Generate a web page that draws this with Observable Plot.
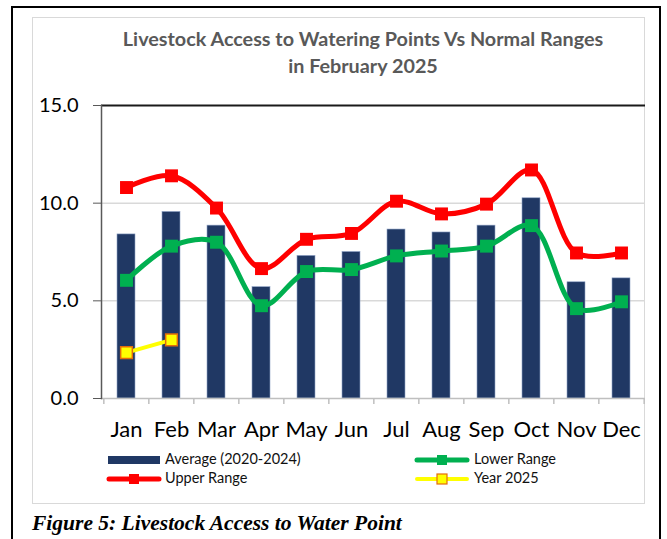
<!DOCTYPE html>
<html>
<head>
<meta charset="utf-8">
<script src="https://cdn.jsdelivr.net/npm/d3@7"></script>
<script src="https://cdn.jsdelivr.net/npm/@observablehq/plot@0.6"></script>
<style>
  html, body { margin: 0; padding: 0; background: #fff; }
  body { width: 667px; height: 539px; overflow: hidden; position: relative; font-family: Lato, sans-serif; }
  #outer { position: absolute; left: 11px; top: 6px; width: 650px; height: 560px; border: 2px solid #000; box-sizing: border-box; }
  #inner { position: absolute; left: 32px; top: 17px; width: 613px; height: 487px; border: 1.5px solid #d9d9d9; box-sizing: border-box; }
  #title { position: absolute; left: 63px; width: 600px; top: 25px; text-align: center; font-weight: 700; font-size: 19.8px; line-height: 27px; color: #595959; }
  #chart { position: absolute; left: 0; top: 0; }
  .leg { position: absolute; font-size: 14.5px; color: #111; line-height: 16px; white-space: nowrap; }
  .sw { position: absolute; }
  #caption { position: absolute; left: 32px; top: 513px; font-family: "Liberation Serif", serif; font-weight: 700; font-style: italic; font-size: 21.5px; line-height: 21px; color: #000; white-space: nowrap; }
</style>
</head>
<body>
<div id="outer"></div>
<div id="inner"></div>
<div id="chart"></div>
<div id="title">Livestock Access to Watering Points Vs Normal Ranges<br>in February 2025</div>
<div id="legend"></div>
<div id="caption">Figure 5: Livestock Access to Water Point</div>
<script>
const months = ["Jan","Feb","Mar","Apr","May","Jun","Jul","Aug","Sep","Oct","Nov","Dec"];
const average = [8.4, 9.55, 8.85, 5.7, 7.3, 7.5, 8.65, 8.5, 8.85, 10.25, 5.95, 6.15];
const upperRange = [10.8, 11.4, 9.75, 6.65, 8.15, 8.45, 10.1, 9.45, 9.95, 11.7, 7.45, 7.45];
const lowerRange = [6.05, 7.8, 8.0, 4.75, 6.5, 6.6, 7.3, 7.55, 7.8, 8.85, 4.6, 4.95];
const year2025 = [2.35, 3.0];
const yTicks = [0, 5, 10, 15];

const seriesNames = ["Average (2020-2024)", "Lower Range", "Upper Range", "Year 2025"];
const colors = { navy: "#203864", red: "#ff0000", green: "#00b050", yellow: "#ffff00", orange: "#e46c0a" };

const rows = (vals) => vals.map((v, i) => ({ month: months[i], value: v }));
const avgRows = rows(average);
const upRows = rows(upperRange);
const lowRows = rows(lowerRange);
const yrRows = rows(year2025);

const W = 667, H = 450, mL = 101, mR = 22, mT = 105, mB = 52;
const bw = (W - mL - mR) / months.length;

const chart = Plot.plot({
  width: W, height: H,
  marginTop: mT, marginLeft: mL, marginRight: mR, marginBottom: mB,
  style: { fontFamily: "Lato, sans-serif", background: "transparent", color: "#000", overflow: "visible" },
  x: { domain: months, paddingInner: 0.6, paddingOuter: 0.3, label: null, axis: null },
  y: { domain: [0, 15], label: null, axis: null },
  marks: [
    Plot.gridY([5, 10], { stroke: "#d9d9d9", strokeOpacity: 1, strokeWidth: 1.5 }),
    Plot.barY(avgRows, { x: "month", y: "value", fill: colors.navy, stroke: "#8fa3c6", strokeWidth: 0.6 }),
    Plot.ruleY([0], { stroke: "#bfbfbf", strokeWidth: 1.5 }),
    Plot.ruleY([15], { stroke: "#1a1a1a", strokeWidth: 2 }),
    Plot.frame({ anchor: "left", stroke: "#595959", strokeWidth: 1.5 }),
    Plot.axisY(yTicks, { tickSize: 8, tickPadding: 15, tickFormat: d => d.toFixed(1), fontSize: 20, stroke: "#595959", fill: "#000", label: null }),
    Plot.axisX(months, { tickSize: 0, tickPadding: 23, fontSize: 22, fill: "#000", label: null }),
    Plot.axisX(months, { tickSize: 6, tickFormat: () => "", dx: -bw / 2, stroke: "#bfbfbf", strokeWidth: 1.5, label: null }),
    Plot.axisX(["Dec"], { tickSize: 6, tickFormat: () => "", dx: bw / 2, stroke: "#bfbfbf", strokeWidth: 1.5, label: null }),
    Plot.line(upRows, { x: "month", y: "value", curve: "catmull-rom", stroke: colors.red, strokeWidth: 5 }),
    Plot.dot(upRows, { x: "month", y: "value", symbol: "square", r: 7.3, fill: colors.red, stroke: "none" }),
    Plot.line(lowRows, { x: "month", y: "value", curve: "catmull-rom", stroke: colors.green, strokeWidth: 5 }),
    Plot.dot(lowRows, { x: "month", y: "value", symbol: "square", r: 7.3, fill: colors.green, stroke: "none" }),
    Plot.line(yrRows, { x: "month", y: "value", curve: "catmull-rom", stroke: colors.yellow, strokeWidth: 4 }),
    Plot.dot(yrRows, { x: "month", y: "value", symbol: "square", r: 6.6, fill: colors.yellow, stroke: colors.orange, strokeWidth: 1.5 })
  ]
});
document.getElementById("chart").appendChild(chart);

// Legend
const legend = document.getElementById("legend");
function swatch(x, y, kind, color, markerFill, markerStroke, thick) {
  const w = 56, h = 14;
  let svg = `<svg class="sw" width="${w}" height="${h}" style="left:${x}px;top:${y - h / 2}px">`;
  if (kind === "bar") {
    svg += `<rect x="0" y="${h / 2 - 4}" width="52" height="8" fill="${color}"/>`;
  } else {
    svg += `<line x1="3" x2="${w - 3}" y1="${h / 2}" y2="${h / 2}" stroke="${color}" stroke-width="${thick}" stroke-linecap="round"/>`;
    svg += `<rect x="${w / 2 - 5}" y="${h / 2 - 5}" width="10" height="10" fill="${markerFill}" stroke="${markerStroke}" stroke-width="1.2"/>`;
  }
  svg += `</svg>`;
  return svg;
}
function label(x, y, text) {
  return `<div class="leg" style="left:${x}px;top:${y - 9}px">${text}</div>`;
}
legend.innerHTML =
  swatch(108, 460, "bar", colors.navy) + label(165, 460, seriesNames[0]) +
  swatch(414, 460, "line", colors.green, colors.green, "none", 5) + label(474, 460, seriesNames[1]) +
  swatch(106, 479, "line", colors.red, colors.red, "none", 5) + label(165, 479, seriesNames[2]) +
  swatch(414, 479, "line", colors.yellow, colors.yellow, colors.orange, 4) + label(474, 479, seriesNames[3]);
</script>
</body>
</html>
